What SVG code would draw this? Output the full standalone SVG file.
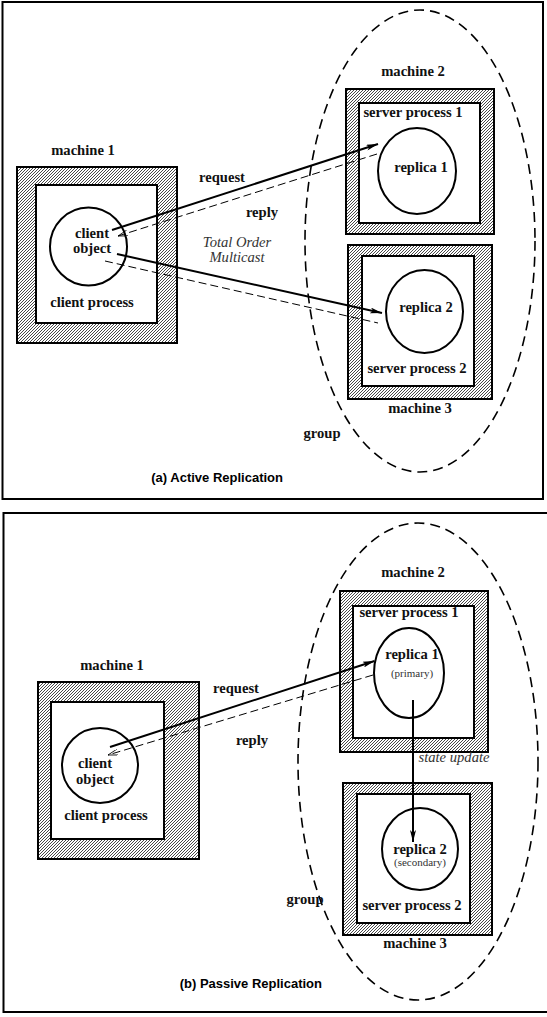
<svg xmlns="http://www.w3.org/2000/svg" width="547" height="1017" viewBox="0 0 547 1017">
<defs>
<pattern id="hatch" patternUnits="userSpaceOnUse" width="3" height="3">
<rect width="3" height="3" fill="#fff"/>
<path d="M-0.75,0.75 L0.75,-0.75 M0,3 L3,0 M2.25,3.75 L3.75,2.25" stroke="#333" stroke-width="0.9"/>
</pattern>
<marker id="solidHead" viewBox="0 0 12 6" refX="12" refY="3" markerWidth="12" markerHeight="6" markerUnits="userSpaceOnUse" orient="auto">
<path d="M0,0 L12,3 L0,6 L3,3 Z" fill="#000"/>
</marker>
<marker id="openHead" viewBox="0 0 10 6" refX="10" refY="3" markerWidth="10" markerHeight="6" markerUnits="userSpaceOnUse" orient="auto">
<path d="M0,0 L10,3 L0,6" fill="none" stroke="#000" stroke-width="0.8"/>
</marker>
</defs>
<style>
.panel{fill:#fff;stroke:#000;stroke-width:2}
.outer{fill:url(#hatch);stroke:#000;stroke-width:2}
.inner{fill:#fff;stroke:#000;stroke-width:2}
.obj{fill:#fff;stroke:#000;stroke-width:2}
.group{fill:none;stroke:#000;stroke-width:1.6;stroke-dasharray:10,6}
.t{font-family:"Liberation Serif","Times New Roman",serif;font-weight:bold;font-size:14.6px;fill:#111;text-anchor:middle}
.it{font-family:"Liberation Serif","Times New Roman",serif;font-style:italic;font-size:14.6px;fill:#333;text-anchor:middle}
.sm{font-family:"Liberation Serif","Times New Roman",serif;font-size:11px;fill:#333;text-anchor:middle}
.cap{font-family:"Liberation Sans",Arial,sans-serif;font-weight:bold;font-size:13px;fill:#000;text-anchor:end}
.req{fill:none;stroke:#000;stroke-width:2}
.rep{fill:none;stroke:#000;stroke-width:1;stroke-dasharray:8,4}
</style>

<g id="panel-a">
<rect class="panel" x="2.5" y="2" width="540.5" height="497"/>
<text class="cap" x="283" y="482">(a) Active Replication</text>
</g>
<g id="group-a">
<ellipse class="group" cx="420" cy="241" rx="115" ry="231"/>
<text class="t" x="322" y="438">group</text>
</g>
<g id="machine1-a">
<text class="t" x="83" y="155">machine 1</text>
<rect class="outer" x="17" y="167" width="160" height="176"/>
<rect class="inner" x="36" y="185" width="121" height="138"/>
<text class="t" x="92" y="307">client process</text>
</g>
<g id="client-a">
<ellipse class="obj" cx="88.5" cy="246.5" rx="38.5" ry="39"/>
<text class="t" x="92" y="238">client</text>
<text class="t" x="92" y="253">object</text>
</g>
<g id="machine2-a">
<text class="t" x="413" y="76">machine 2</text>
<rect class="outer" x="346" y="89" width="148" height="145"/>
<rect class="inner" x="359" y="103" width="121" height="120"/>
<text class="t" x="413" y="117">server process 1</text>
</g>
<g id="replica1-a">
<ellipse class="obj" cx="417" cy="171" rx="39" ry="43"/>
<text class="t" x="421" y="172">replica 1</text>
</g>
<g id="machine3-a">
<rect class="outer" x="348" y="245" width="144" height="154"/>
<rect class="inner" x="362" y="256" width="112" height="130"/>
<text class="t" x="417" y="373">server process  2</text>
<text class="t" x="420" y="413">machine 3</text>
</g>
<g id="replica2-a">
<ellipse class="obj" cx="424.5" cy="311.5" rx="38.5" ry="41.5"/>
<text class="t" x="426" y="312">replica 2</text>
</g>
<g id="connectors-a">
<line class="req" x1="112" y1="230" x2="378" y2="144" marker-end="url(#solidHead)"/>
<line class="rep" x1="377" y1="154" x2="118" y2="236" marker-end="url(#openHead)"/>
<line class="req" x1="117" y1="254" x2="382" y2="313" marker-end="url(#solidHead)"/>
<line class="rep" x1="105" y1="261" x2="378" y2="323"/>
<text class="t" x="222" y="182">request</text>
<text class="t" x="262" y="217">reply</text>
<text class="it" x="237" y="247">Total Order</text>
<text class="it" x="237" y="262">Multicast</text>
</g>

<g id="panel-b">
<rect class="panel" x="3.5" y="513" width="550" height="499"/>
<text class="cap" x="322" y="988">(b)  Passive Replication</text>
</g>
<g id="group-b">
<ellipse class="group" cx="418" cy="761.5" rx="120" ry="238.5"/>
<text class="t" x="305" y="904">group</text>
</g>
<g id="machine1-b">
<text class="t" x="112" y="670">machine 1</text>
<rect class="outer" x="38" y="682" width="161" height="177"/>
<rect class="inner" x="51" y="702" width="113" height="137"/>
<text class="t" x="106" y="820">client process</text>
</g>
<g id="client-b">
<ellipse class="obj" cx="100" cy="765.5" rx="38" ry="37.5"/>
<text class="t" x="95" y="768">client</text>
<text class="t" x="95" y="784">object</text>
</g>
<g id="machine2-b">
<text class="t" x="413" y="577">machine 2</text>
<rect class="outer" x="340" y="591" width="148" height="161"/>
<rect class="inner" x="353" y="606" width="121" height="132"/>
<text class="t" x="409" y="617">server process  1</text>
</g>
<g id="replica1-b">
<ellipse class="obj" cx="409" cy="673" rx="35" ry="45"/>
<text class="t" x="412" y="659">replica 1</text>
<text class="sm" x="412" y="677">(primary)</text>
</g>
<g id="machine3-b">
<rect class="outer" x="343" y="783" width="149" height="152"/>
<rect class="inner" x="357" y="794" width="113" height="129"/>
<text class="t" x="412" y="910">server process  2</text>
<text class="t" x="415" y="948">machine 3</text>
</g>
<g id="replica2-b">
<ellipse class="obj" cx="420" cy="849" rx="38" ry="41"/>
<text class="t" x="420" y="854">replica 2</text>
<text class="sm" x="420" y="866">(secondary)</text>
</g>
<g id="connectors-b">
<line class="req" x1="110" y1="747" x2="374.5" y2="661" marker-end="url(#solidHead)"/>
<line class="rep" x1="373" y1="675" x2="108" y2="755" marker-end="url(#openHead)"/>
<line class="req" x1="413" y1="700" x2="413" y2="842" stroke-width="1.6" marker-end="url(#solidHead)"/>
<text class="t" x="236" y="693">request</text>
<text class="t" x="252" y="745">reply</text>
<text class="it" x="454" y="762">state update</text>
</g>
</svg>
